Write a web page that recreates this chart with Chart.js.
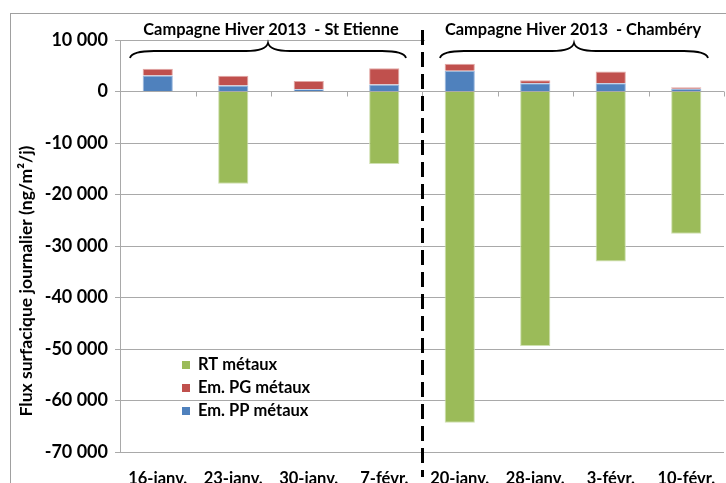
<!DOCTYPE html>
<html lang="fr">
<head>
<meta charset="utf-8">
<title>Flux surfacique journalier - Campagne Hiver 2013</title>
<script src="https://cdn.jsdelivr.net/npm/chart.js@4.4.1/dist/chart.umd.min.js"></script>
<style>
  html, body { margin: 0; padding: 0; background: #fff; }
  #wrap { width: 726px; height: 483px; }
</style>
</head>
<body>
<div id="wrap"><canvas id="flux" width="726" height="483"></canvas></div>
<script>
// ---- Données (ng/m²/j) ----
const dates = ['16-janv.', '23-janv.', '30-janv.', '7-févr.', '20-janv.', '28-janv.', '3-févr.', '10-févr.'];
const emPP = [3100, 1150, 450, 1350, 4050, 1600, 1600, 550];
const emPG = [1300, 1900, 1600, 3150, 1350, 600, 2300, 270];
const rtMetaux = [0, -17900, 0, -14100, -64300, -49400, -33000, -27600];
const yTicks = [10000, 0, -10000, -20000, -30000, -40000, -50000, -60000, -70000];

// campagnes : libellé + indices des dates couvertes
const campagneLabels = ['Campagne Hiver 2013  - St Etienne', 'Campagne Hiver 2013  - Chambéry'];
const campagneRanges = [[0, 3], [4, 7]];

const FONT = 'Lato, "Open Sans", sans-serif';
const GRID = '#a9a9a9';

function fmt(v) {
  const s = Math.abs(v).toString().replace(/\B(?=(\d{3})+(?!\d))/g, ' ');
  return (v < 0 ? '-' : '') + s;
}

// accolade horizontale, pointe vers le haut au centre
function brace(ctx, x0, x1, yTop) {
  const xm = (x0 + x1) / 2, yLine = yTop + 8, yEnd = yTop + 15;
  ctx.beginPath();
  ctx.moveTo(x0, yEnd);
  ctx.quadraticCurveTo(x0 + 2, yLine, x0 + 24, yLine);
  ctx.lineTo(xm - 22, yLine);
  ctx.quadraticCurveTo(xm - 2, yLine, xm, yTop);
  ctx.quadraticCurveTo(xm + 2, yLine, xm + 22, yLine);
  ctx.lineTo(x1 - 24, yLine);
  ctx.quadraticCurveTo(x1 - 2, yLine, x1, yEnd);
  ctx.stroke();
}

const decor = {
  id: 'decor',
  afterDraw(chart) {
    const { ctx, chartArea: a, scales: { x, y } } = chart;
    const step = x.getPixelForValue(1) - x.getPixelForValue(0);
    const edge = i => x.getPixelForValue(i) - step / 2;
    const y0 = y.getPixelForValue(0);

    ctx.save();

    // cadre extérieur
    ctx.strokeStyle = '#a0a0a0';
    ctx.lineWidth = 1;
    ctx.strokeRect(10.5, 13.5, 900, 900);

    // graduations de l'axe des dates sur la ligne zéro
    ctx.strokeStyle = GRID;
    ctx.beginPath();
    for (let i = 1; i <= dates.length; i++) {
      const px = Math.round(edge(i)) + 0.5;
      ctx.moveTo(px, y0);
      ctx.lineTo(px, y0 + 5);
    }
    ctx.stroke();

    // zone de texte de la 2e campagne (fond blanc)
    ctx.fillStyle = '#fff';
    ctx.fillRect(edge(campagneRanges[1][0]) + 3, 17, a.right - edge(campagneRanges[1][0]) - 2, 42);

    // séparation des deux campagnes
    const xs = Math.round(edge(campagneRanges[1][0])) + 0.5;
    ctx.strokeStyle = '#000';
    ctx.lineWidth = 3;
    ctx.setLineDash([15, 7]);
    ctx.beginPath();
    ctx.moveTo(xs, 30);
    ctx.lineTo(xs, 477);
    ctx.stroke();
    ctx.setLineDash([]);

    // accolades + titres des campagnes
    ctx.lineWidth = 1.8;
    ctx.fillStyle = '#000';
    ctx.font = 'bold 16.4px ' + FONT;
    ctx.textAlign = 'center';
    ctx.textBaseline = 'alphabetic';
    campagneRanges.forEach((r, k) => {
      const x0 = edge(r[0]) + (k === 0 ? 10 : 18);
      const x1 = edge(r[1] + 1) - 16;
      brace(ctx, x0, x1, 43);
      ctx.fillText(campagneLabels[k], (edge(r[0]) + edge(r[1] + 1)) / 2, 35);
    });

    // titre de l'axe vertical
    ctx.save();
    ctx.translate(26, 281);
    ctx.rotate(-Math.PI / 2);
    ctx.font = 'bold 17.5px ' + FONT;
    ctx.textBaseline = 'middle';
    ctx.fillText('Flux surfacique journalier (ng/m²/j)', 0, 0);
    ctx.restore();

    // légende dans la zone de tracé
    ctx.font = 'bold 16.5px ' + FONT;
    ctx.textAlign = 'left';
    ctx.textBaseline = 'middle';
    const items = chart.data.datasets.slice().reverse();
    items.forEach((ds, i) => {
      const ly = 365 + i * 23;
      ctx.fillStyle = ds.backgroundColor;
      ctx.fillRect(182, ly - 4, 8, 8);
      ctx.fillStyle = '#000';
      ctx.fillText(ds.label, 198, ly);
    });

    ctx.restore();
  }
};

new Chart(document.getElementById('flux'), {
  type: 'bar',
  data: {
    labels: dates,
    datasets: [
      { label: 'Em. PP métaux', data: emPP, backgroundColor: '#4f81bd', borderColor: '#9cb9dc' },
      { label: 'Em. PG métaux', data: emPG, backgroundColor: '#c0504d', borderColor: '#e2a7a5' },
      { label: 'RT métaux', data: rtMetaux, backgroundColor: '#9bbb59', borderColor: '#cfe0b0' }
    ]
  },
  options: {
    responsive: false,
    animation: false,
    layout: { padding: { left: 0, top: 40, right: 2, bottom: 0 } },
    datasets: {
      bar: { borderWidth: 1, categoryPercentage: 0.4, barPercentage: 1 }
    },
    plugins: {
      legend: { display: false },
      tooltip: { enabled: false }
    },
    scales: {
      x: {
        stacked: true,
        grid: { display: false },
        border: { display: false },
        ticks: {
          color: '#000',
          font: { family: FONT, size: 16.5, weight: 'bold' },
          padding: 9,
          maxRotation: 0
        },
        afterFit(scale) { scale.height = 31; }
      },
      y: {
        stacked: true,
        min: Math.min(...yTicks),
        max: Math.max(...yTicks),
        grid: { color: GRID, tickLength: 5 },
        border: { display: true, color: GRID },
        ticks: {
          stepSize: yTicks[0] - yTicks[1],
          color: '#000',
          padding: 7,
          font: { family: FONT, size: 18, weight: 'bold' },
          callback: v => fmt(v)
        },
        afterFit(scale) { scale.width = 120; }
      }
    }
  },
  plugins: [decor]
});
</script>
</body>
</html>
